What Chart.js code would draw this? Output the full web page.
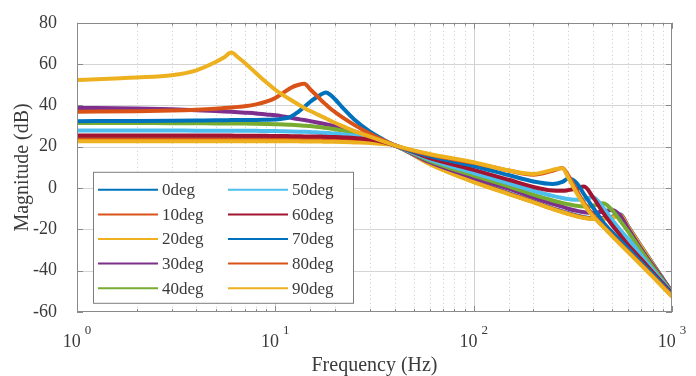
<!DOCTYPE html>
<html>
<head>
<meta charset="utf-8">
<script src="https://cdn.jsdelivr.net/npm/chart.js@4.4.0/dist/chart.umd.min.js"></script>
<style>
html,body{margin:0;padding:0;background:#fff;}
</style>
</head>
<body>
<canvas id="chart" width="696" height="376"></canvas>
<script>
// ===== DATA =====
const freq = [1,2,3,4,5,5.5,6,6.5,7,8, 9,10,11,12,13,14,15,16,17,18, 19,20,22,25,30,35,40,60,100,150,
              200,250,280,300,330,360,400,450,500,550, 600,700,800,1000];

const seriesNames = ["0deg","10deg","20deg","30deg","40deg","50deg","60deg","70deg","80deg","90deg"];
const seriesColors = ["#0072BD","#D95319","#EDB120","#7E2F8E","#77AC30","#4DBEEE","#A2142F","#0072BD","#D95319","#EDB120"];

const mag0  = [24.2,24.2,24.2,24.2,24.1,24.1,24.1,24.1,24.1,24.0, 24.0,24.0,24.0,23.9,23.9,23.9,23.8,23.8,23.7,23.7,
               23.6,23.6,23.4,23.2,22.6,21.8,20.7,12.0,3.3,-2.5, -6.5,-9.8,-11.3,-12.2,-13.3,-14.1,-14.6,-14.5,-13.9,-12.8,
               -18.4,-28.2,-36.6,-50.4];
const mag10 = [23.6,23.6,23.6,23.6,23.6,23.6,23.6,23.6,23.5,23.5, 23.5,23.5,23.5,23.4,23.4,23.4,23.3,23.3,23.3,23.2,
               23.2,23.1,23.0,22.8,22.3,21.6,20.7,11.8,3.1,-2.7, -6.7,-10.0,-11.5,-12.4,-13.5,-14.3,-14.8,-14.7,-14.1,-13.1,
               -18.6,-28.4,-36.8,-50.6];
const mag20 = [22.7,22.7,22.7,22.7,22.7,22.7,22.7,22.7,22.7,22.7, 22.6,22.6,22.6,22.6,22.6,22.5,22.5,22.5,22.5,22.4,
               22.4,22.4,22.3,22.1,21.8,21.3,20.7,11.6,2.9,-2.9, -6.9,-10.2,-11.7,-12.6,-13.7,-14.5,-15.0,-14.9,-14.3,-13.4,
               -18.8,-28.6,-37.0,-50.8];
const mag30 = [38.8,38.5,38.1,37.7,37.3,37.1,36.9,36.7,36.5,36.1, 35.6,35.2,34.6,34.0,33.4,32.9,32.4,31.9,31.4,30.9,
               30.4,30.0,29.0,27.4,25.0,22.7,20.7,12.5,5.0,-0.3, -4.5,-7.7,-9.0,-10.0,-11.0,-11.7,-12.0,-11.3,-10.6,-13.5,
               -19.5,-29.5,-37.5,-50.3];
const mag40 = [31.5,31.5,31.4,31.4,31.3,31.3,31.3,31.2,31.2,31.1, 31.0,30.9,30.8,30.6,30.4,30.2,30.0,29.7,29.4,29.1,
               28.8,28.5,27.8,26.8,24.9,22.8,20.7,13.2,6.0,0.8, -3.2,-6.0,-7.2,-7.8,-8.6,-8.9,-8.6,-7.4,-10.8,-16.0,
               -21.0,-30.5,-38.3,-50.6];
const mag50 = [27.9,27.9,27.9,27.8,27.8,27.8,27.8,27.7,27.7,27.7, 27.6,27.6,27.5,27.4,27.3,27.2,27.1,27.0,26.8,26.7,
               26.5,26.4,26.0,25.4,24.1,22.5,20.7,13.8,7.3,2.3, -1.3,-3.8,-4.8,-5.3,-5.7,-5.4,-4.4,-9.5,-15.5,-20.5,
               -24.5,-32.5,-39.5,-50.8];
const mag60 = [25.4,25.4,25.4,25.4,25.4,25.4,25.4,25.3,25.3,25.3, 25.3,25.2,25.2,25.1,25.1,25.0,25.0,24.9,24.9,24.8,
               24.7,24.7,24.5,24.2,23.5,22.3,20.7,14.5,8.8,4.0, 0.5,-1.2,-1.3,-1.0,-0.2,0.7,-4.5,-12.0,-18.0,-23.0,
               -27.5,-34.5,-40.8,-51.0];
const mag70 = [32.4,32.5,32.6,32.7,32.8,32.8,32.9,32.9,33.0,33.0, 33.1,33.2,33.6,34.6,36.8,39.3,41.8,43.7,45.3,46.2,
               45.0,43.0,38.6,33.2,27.3,23.5,20.7,15.5,10.7,6.3, 3.2,2.0,3.0,4.6,2.5,-3.0,-9.5,-16.5,-21.5,-25.5,
               -29.2,-36.0,-41.7,-51.5];
const mag80 = [37.0,37.2,37.5,37.9,38.4,38.7,39.0,39.3,39.6,40.5, 41.8,43.6,46.2,48.6,49.9,50.5,47.8,45.2,42.6,40.4,
               38.4,36.8,34.0,30.6,26.3,23.2,20.7,16.2,12.2,8.5, 6.5,8.4,9.7,6.0,-1.0,-7.2,-13.2,-18.5,-23.0,-27.0,
               -30.6,-37.0,-42.6,-52.2];
const mag90 = [52.3,53.5,54.6,57.0,61.0,63.2,65.6,63.2,60.7,55.6, 51.2,47.6,44.9,42.6,40.6,38.8,37.3,36.0,34.8,33.7,
               32.6,31.6,29.9,27.6,24.9,22.6,20.7,16.5,12.5,8.5, 6.8,8.8,9.6,5.0,-2.3,-8.0,-13.8,-18.8,-23.4,-27.4,
               -31.0,-37.4,-43.0,-52.6];

const magnitudes = [mag0,mag10,mag20,mag30,mag40,mag50,mag60,mag70,mag80,mag90];
const xDecadeExps = [0,1,2,3];
const yMin = -60, yMax = 80, yStep = 20;

const FONT = "'Liberation Serif','Times New Roman',serif";
const TEXT = "#3a3a3a";
const AXIS = "#8a8a8a";

function isDecade(v){
  const l = Math.log10(v);
  return Math.abs(l - Math.round(l)) < 1e-9;
}

// ===== PLUGINS =====
const gridPlugin = {
  id: "gridPlugin",
  beforeDatasetsDraw(chart){
    const {ctx, chartArea:a, scales:{x,y}} = chart;
    ctx.save();
    ctx.lineWidth = 1;
    x.ticks.forEach(t=>{
      const px = Math.round(x.getPixelForValue(t.value)) + 0.5;
      if(px <= a.left+1 || px >= a.right-1) return;
      const major = isDecade(t.value);
      ctx.strokeStyle = major ? "#cfcfcf" : "#c8c8c8";
      ctx.setLineDash(major ? [] : [1,3]);
      ctx.beginPath(); ctx.moveTo(px,a.top); ctx.lineTo(px,a.bottom); ctx.stroke();
    });
    ctx.setLineDash([]);
    ctx.strokeStyle = "#d4d4d4";
    y.ticks.forEach(t=>{
      const py = Math.round(y.getPixelForValue(t.value)) + 0.5;
      if(py <= a.top+1 || py >= a.bottom-1) return;
      ctx.beginPath(); ctx.moveTo(a.left,py); ctx.lineTo(a.right,py); ctx.stroke();
    });
    ctx.restore();
  },
  afterDatasetsDraw(chart){
    const {ctx, chartArea:a, scales:{x,y}} = chart;
    ctx.save();
    ctx.strokeStyle = AXIS;
    ctx.lineWidth = 1;
    // inward ticks
    x.ticks.forEach(t=>{
      const px = Math.round(x.getPixelForValue(t.value)) + 0.5;
      const len = isDecade(t.value) ? 6 : 3;
      ctx.beginPath();
      ctx.moveTo(px,a.bottom); ctx.lineTo(px,a.bottom-len);
      ctx.moveTo(px,a.top); ctx.lineTo(px,a.top+len);
      ctx.stroke();
    });
    y.ticks.forEach(t=>{
      const py = Math.round(y.getPixelForValue(t.value)) + 0.5;
      ctx.beginPath();
      ctx.moveTo(a.left,py); ctx.lineTo(a.left+6,py);
      ctx.moveTo(a.right,py); ctx.lineTo(a.right-6,py);
      ctx.stroke();
    });
    ctx.strokeRect(Math.round(a.left)+0.5, Math.round(a.top)+0.5,
                   Math.round(a.right-a.left)-1, Math.round(a.bottom-a.top)-1);

    // x tick labels 10^k
    ctx.fillStyle = TEXT;
    ctx.textBaseline = "alphabetic";
    xDecadeExps.forEach(k=>{
      const px = x.getPixelForValue(Math.pow(10,k));
      ctx.font = "18px " + FONT;
      const wb = ctx.measureText("10").width;
      ctx.font = "13px " + FONT;
      const we = ctx.measureText(String(k)).width;
      const gap = 4;
      const start = px - (wb + gap + we)/2;
      ctx.font = "18px " + FONT;
      ctx.textAlign = "left";
      ctx.fillText("10", start, a.bottom + 35);
      ctx.font = "13px " + FONT;
      ctx.fillText(String(k), start + wb + gap, a.bottom + 22);
    });

    // legend
    const lx = a.left + 16, ly = a.top + 149, lw = 260, lh = 131;
    ctx.fillStyle = "#ffffff";
    ctx.fillRect(lx, ly, lw, lh);
    ctx.strokeStyle = "#7d7d7d";
    ctx.lineWidth = 1;
    ctx.strokeRect(lx+0.5, ly+0.5, lw, lh);
    ctx.font = "17px " + FONT;
    ctx.textBaseline = "middle";
    ctx.textAlign = "left";
    chart.data.datasets.forEach((ds,i)=>{
      const col = Math.floor(i/5), row = i%5;
      const cx = lx + 5 + col*130;
      const cy = ly + 18 + row*24.6;
      ctx.strokeStyle = ds.borderColor;
      ctx.lineWidth = 2;
      ctx.beginPath(); ctx.moveTo(cx, cy); ctx.lineTo(cx+60, cy); ctx.stroke();
      ctx.fillStyle = TEXT;
      ctx.fillText(ds.label, cx + 64, cy + 1);
    });
    ctx.restore();
  }
};

// ===== CHART =====
const datasets = magnitudes.map((m,i)=>({
  label: seriesNames[i],
  data: freq.map((f,j)=>({x:f, y:m[j]})),
  borderColor: seriesColors[i],
  backgroundColor: seriesColors[i],
  borderWidth: 4,
  pointRadius: 0,
  fill: false,
  cubicInterpolationMode: "monotone",
  borderJoinStyle: "round",
  borderCapStyle: "round",
  order: 9 - i
}));

new Chart(document.getElementById("chart").getContext("2d"), {
  type: "line",
  data: { datasets },
  options: {
    responsive: false,
    animation: false,
    layout: { padding: { top: 20, right: 24, left: 0, bottom: 0 } },
    plugins: { legend: { display: false }, tooltip: { enabled: false } },
    scales: {
      x: {
        type: "logarithmic",
        min: 1, max: 1000,
        grid: { display: false },
        border: { display: false },
        ticks: { display: false, autoSkip: false },
        title: { display: true, text: "Frequency (Hz)", color: TEXT,
                 font: { family: FONT, size: 20, lineHeight: 1 }, padding: { top: 0, bottom: 0 } },
        afterFit: s => { s.height = 64; }
      },
      y: {
        min: yMin, max: yMax,
        grid: { display: false },
        border: { display: false },
        ticks: { stepSize: yStep, color: TEXT, padding: 12,
                 font: { family: FONT, size: 18 } },
        title: { display: true, text: "Magnitude (dB)", color: TEXT,
                 font: { family: FONT, size: 20, lineHeight: 1 }, padding: { top: 13, bottom: 0 } },
        afterFit: s => { s.width = 77; }
      }
    }
  },
  plugins: [gridPlugin]
});
</script>
</body>
</html>
